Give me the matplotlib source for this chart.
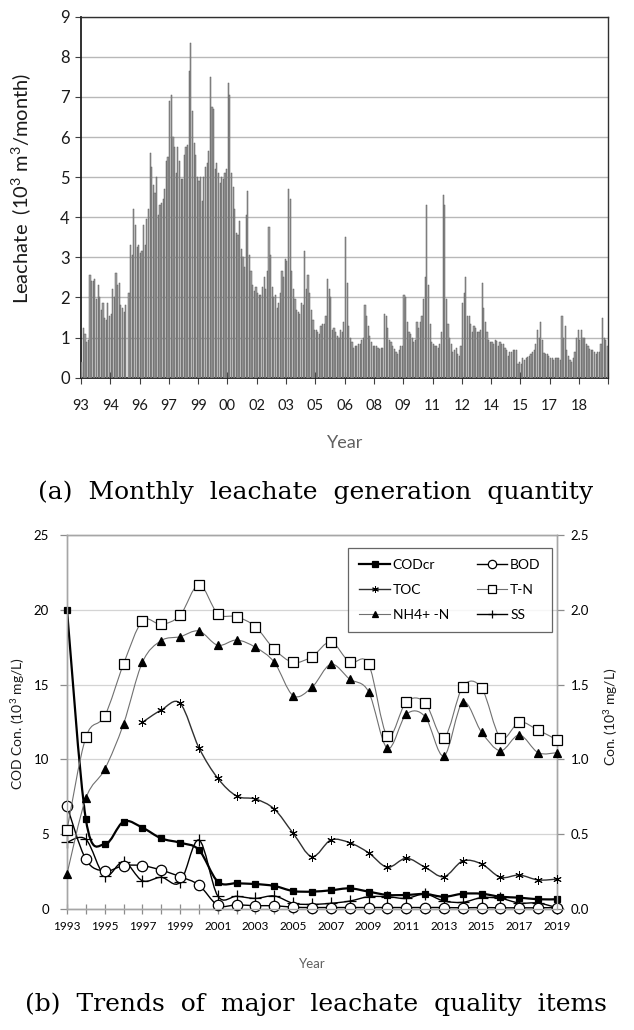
import numpy as np
import matplotlib
matplotlib.use('Agg')
import matplotlib.pyplot as plt
from matplotlib.path import Path
from matplotlib.patches import PathPatch
from matplotlib.lines import Line2D

plt.rcParams['font.family'] = ['Lato', 'DejaVu Sans']
plt.rcParams['mathtext.fontset'] = 'custom'
plt.rcParams['mathtext.rm'] = 'Lato'

# (a) monthly leachate, 10^3 m3/month, Jan 1993 .. Dec 2019
leachate = [
    0.4, 1.25, 1.1, 0.9, 0.95, 2.55, 2.4, 2.4, 2.45, 1.95, 2.3, 2.0, 1.7, 1.85, 1.5, 1.45, 1.85, 1.55,
    1.6, 2.2, 2.0, 2.6, 2.3, 2.35, 1.8, 1.75, 1.65, 1.8, 0.0, 2.1, 3.3, 3.05, 4.2, 3.8, 3.25, 3.3,
    3.1, 3.15, 3.8, 3.3, 3.95, 4.2, 5.6, 5.25, 4.8, 4.6, 5.0, 4.05, 4.3, 4.35, 4.45, 4.7, 5.4, 5.5,
    6.9, 7.05, 6.0, 5.75, 5.1, 5.75, 5.4, 4.95, 4.95, 5.55, 5.75, 5.8, 7.65, 8.35, 6.65, 5.85, 5.55, 5.0,
    4.9, 5.0, 4.4, 5.0, 5.25, 5.35, 5.65, 7.5, 6.75, 6.7, 5.2, 5.35, 5.1, 4.85, 5.0, 4.95, 5.1, 5.2,
    7.35, 7.05, 5.1, 4.75, 4.2, 3.6, 3.55, 3.9, 3.2, 3.0, 2.75, 4.05, 4.65, 3.05, 2.65, 2.3, 2.15, 2.25,
    2.1, 2.05, 2.05, 2.25, 2.5, 2.2, 2.65, 3.75, 3.05, 2.25, 2.0, 2.05, 1.75, 1.85, 2.1, 2.65, 2.5, 2.95,
    2.9, 4.7, 4.45, 2.65, 2.2, 1.95, 1.7, 1.65, 1.6, 1.85, 1.8, 3.15, 2.2, 2.55, 2.1, 1.7, 1.45, 1.2,
    1.2, 1.15, 1.1, 1.3, 1.35, 1.35, 1.55, 2.45, 2.2, 2.0, 1.2, 1.25, 1.15, 1.05, 1.0, 1.2, 1.15, 1.4,
    3.5, 2.35, 1.3, 1.0, 0.9, 0.75, 0.8, 0.8, 0.85, 0.85, 0.95, 1.0, 1.8, 1.55, 1.3, 1.05, 0.9, 0.8,
    0.78, 0.78, 0.75, 0.72, 0.75, 0.75, 1.6, 1.55, 1.25, 0.95, 0.9, 0.8, 0.72, 0.65, 0.6, 0.7, 0.78, 0.8,
    2.05, 2.0, 1.4, 1.15, 1.1, 1.0, 0.9, 0.95, 1.4, 1.25, 1.4, 1.55, 1.95, 2.5, 4.3, 2.3, 1.35, 0.9,
    0.85, 0.8, 0.8, 0.75, 0.85, 1.15, 4.55, 4.3, 1.95, 1.35, 1.0, 0.85, 0.65, 0.7, 0.75, 0.6, 0.55, 0.8,
    1.85, 2.1, 2.5, 1.55, 1.55, 1.35, 1.15, 1.3, 1.25, 1.15, 1.15, 1.2, 2.35, 1.75, 1.4, 1.15, 0.95, 0.9,
    0.9, 0.85, 0.95, 0.92, 0.8, 0.9, 0.85, 0.85, 0.75, 0.7, 0.55, 0.65, 0.65, 0.68, 0.68, 0.68, 0.35, 0.4,
    0.35, 0.5, 0.45, 0.5, 0.52, 0.55, 0.6, 0.65, 0.7, 0.85, 1.2, 1.0, 1.4, 0.95, 0.62, 0.6, 0.58, 0.55,
    0.5, 0.5, 0.45, 0.5, 0.48, 0.5, 0.45, 1.55, 1.0, 1.3, 0.7, 0.55, 0.45, 0.4, 0.5, 0.65, 1.0, 1.2,
    0.95, 1.2, 0.98, 0.98, 0.85, 0.78, 0.72, 0.68, 0.7, 0.65, 0.6, 0.65, 0.65, 0.85, 1.5, 1.0, 0.95, 0.8,
]
month_ticks = list(range(0, 325, 18))
month_labels = ['93', '94', '96', '97', '99', '00', '02', '03', '05', '06',
                '08', '09', '11', '12', '14', '15', '17', '18', '']

# (b) yearly quality, COD/BOD/SS on left axis, TOC/T-N/NH4 on right axis
years = list(range(1993, 2020))
cod = [20.0, 6.0, 4.32, 5.84, 5.44, 4.72, 4.43, 3.95, 1.83, 1.72, 1.67, 1.54, 1.2, 1.16,
       1.25, 1.38, 1.16, 0.94, 0.94, 1.0, 0.82, 1.02, 1.02, 0.82, 0.76, 0.65, 0.65]
bod = [6.88, 3.32, 2.54, 2.9, 2.9, 2.6, 2.16, 1.6, 0.25, 0.28, 0.22, 0.22, 0.12, 0.1,
       0.1, 0.1, 0.1, 0.1, 0.1, 0.1, 0.1, 0.08, 0.1, 0.08, 0.08, 0.08, 0.1]
ss = [4.46, 4.66, 2.23, 3.16, 1.89, 2.12, 1.78, 4.61, 0.87, 0.85, 0.71, 0.87, 0.38, 0.31,
      0.38, 0.53, 0.82, 0.82, 0.71, 1.0, 0.53, 0.45, 0.76, 0.71, 0.4, 0.4, 0.09]
toc_years = list(range(1997, 2020))
toc = [1.248, 1.33, 1.375, 1.078, 0.874, 0.755, 0.735, 0.668, 0.506, 0.35, 0.461, 0.443,
       0.376, 0.279, 0.339, 0.279, 0.216, 0.321, 0.301, 0.212, 0.227, 0.194, 0.2]
tn = [0.528, 1.148, 1.29, 1.638, 1.925, 1.903, 1.963, 2.168, 1.974, 1.954, 1.887, 1.736,
      1.649, 1.687, 1.785, 1.65, 1.638, 1.156, 1.384, 1.38, 1.145, 1.486, 1.477, 1.145,
      1.248, 1.196, 1.13]
nh4 = [0.234, 0.74, 0.934, 1.237, 1.649, 1.794, 1.82, 1.858, 1.763, 1.798, 1.749, 1.649,
       1.426, 1.482, 1.636, 1.537, 1.453, 1.074, 1.301, 1.286, 1.023, 1.382, 1.181, 1.058,
       1.163, 1.045, 1.045]


def smooth_path(x, y):
    # catmull-rom style bezier through the points, like excel's smoothed line
    n = len(x)
    verts = [(x[0], y[0])]
    codes = [Path.MOVETO]
    for i in range(n - 1):
        xa, ya = (x[i - 1], y[i - 1]) if i > 0 else (x[i], y[i])
        xd, yd = (x[i + 2], y[i + 2]) if i + 2 < n else (x[i + 1], y[i + 1])
        c1 = (x[i] + (x[i + 1] - xa) / 6.0, y[i] + (y[i + 1] - ya) / 6.0)
        c2 = (x[i + 1] - (xd - x[i]) / 6.0, y[i + 1] - (yd - y[i]) / 6.0)
        verts += [c1, c2, (x[i + 1], y[i + 1])]
        codes += [Path.CURVE4] * 3
    return Path(verts, codes)


def draw_series(ax, x, y, color, lw, marker, ms, mfc, zorder, mew=0.9):
    ax.add_patch(PathPatch(smooth_path(x, y), facecolor='none', edgecolor=color,
                           lw=lw, zorder=zorder))
    ax.plot(x, y, ls='none', marker=marker, ms=ms, mfc=mfc, mec='black',
            mew=mew, zorder=zorder + 0.5, clip_on=False)
    return Line2D([], [], color=color, lw=lw, marker=marker, ms=ms * 0.8,
                  mfc=mfc, mec='black', mew=mew)


fig = plt.figure(figsize=(6.34, 10.30), dpi=100)

# ---------- (a) ----------
ax1 = fig.add_axes([81 / 634, 1 - 377.7 / 1030, 527.3 / 634, 361 / 1030])
months = np.arange(len(leachate))
ax1.bar(months + 0.5, leachate, width=0.72, color='#a0a0a0',
        edgecolor='#5c5c5c', linewidth=0.35, zorder=3)
ax1.set_xlim(0, 324)
ax1.set_ylim(0, 9)
ax1.set_yticks(range(10))
ax1.yaxis.grid(True, color='#b8b8b8', lw=1.0, zorder=0)
ax1.set_xticks(month_ticks)
ax1.set_xticklabels(month_labels)
ax1.tick_params(axis='x', direction='inout', length=8, width=0.8, color='#404040',
                labelsize=10.5, pad=11, labelcolor='#1a1a1a')
ax1.tick_params(axis='y', direction='out', length=4, width=0.8, color='#404040',
                labelsize=12, pad=4, labelcolor='#1a1a1a')
for s in ['left', 'bottom']:
    ax1.spines[s].set_color('#202020')
    ax1.spines[s].set_linewidth(1.3)
for s in ['top', 'right']:
    ax1.spines[s].set_color('#303030')
    ax1.spines[s].set_linewidth(1.0)

fig.text(22 / 634, 1 - 188 / 1030, 'Leachate  (10$^{3}$ m$^{3}$/month)', rotation=90,
         ha='center', va='center', fontsize=14.5, color='#1a1a1a')
fig.text(345 / 634, 1 - 443 / 1030, 'Year', ha='center', va='center',
         fontsize=13, color='#606060')
fig.text(316 / 634, 1 - 492 / 1030, '(a)  Monthly  leachate  generation  quantity',
         ha='center', va='center', fontsize=18, family='DejaVu Serif')

# ---------- (b) ----------
ax2 = fig.add_axes([67 / 634, 1 - 909 / 1030, 490 / 634, 374 / 1030])
ax3 = ax2.twinx()
ax2.set_xlim(1993, 2019)
ax2.set_ylim(0, 25)
ax3.set_ylim(0, 2.5)
ax2.set_yticks([0, 5, 10, 15, 20, 25])
ax3.set_yticks([0, 0.5, 1.0, 1.5, 2.0, 2.5])
ax3.set_yticklabels(['0.0', '0.5', '1.0', '1.5', '2.0', '2.5'])
ax2.set_xticks(years[::2])
ax2.set_xticks(years, minor=True)
ax2.yaxis.grid(True, color='#d4d4d4', lw=0.9, zorder=0)
ax2.set_axisbelow(True)
for ax in (ax2, ax3):
    for s in ax.spines.values():
        s.set_color('#a6a6a6')
        s.set_linewidth(1.0)
ax2.tick_params(axis='x', which='both', direction='inout', length=7, width=0.9,
                color='#8c8c8c', labelsize=8.5, pad=5)
ax2.tick_params(axis='y', direction='out', length=5, width=0.9, color='#8c8c8c',
                labelsize=9.5, pad=8)
ax3.tick_params(axis='y', direction='out', length=5, width=0.9, color='#8c8c8c',
                labelsize=9.5, pad=5)

h_tn = draw_series(ax3, years, tn, '#707070', 0.8, 's', 6.5, 'white', 3)
h_nh4 = draw_series(ax3, years, nh4, '#707070', 0.8, '^', 6, 'black', 3)
h_toc = draw_series(ax3, toc_years, toc, '#303030', 1.0, (6, 2, 0), 6, 'black', 4, mew=0.7)
h_ss = draw_series(ax2, years, ss, 'black', 1.0, '+', 8, 'black', 5)
h_bod = draw_series(ax2, years, bod, 'black', 1.0, 'o', 7.5, 'white', 6)
h_cod = draw_series(ax2, years, cod, 'black', 1.6, 's', 5, 'black', 7)

leg = ax3.legend([h_cod, h_toc, h_nh4, h_bod, h_tn, h_ss],
                 ['CODcr', 'TOC', 'NH4+ -N', 'BOD', 'T-N', 'SS'],
                 ncol=2, loc='upper left', bbox_to_anchor=(0.56, 0.985),
                 fontsize=10, frameon=True, fancybox=False, handlelength=2.2,
                 handletextpad=0.2, columnspacing=2.0, labelspacing=0.95,
                 borderpad=0.8)
leg.get_frame().set_edgecolor('#404040')
leg.get_frame().set_linewidth(0.9)

fig.text(18 / 634, 1 - 724 / 1030, 'COD Con. (10$^{3}$ mg/L)', rotation=90,
         ha='center', va='center', fontsize=10, color='#1a1a1a')
fig.text(611 / 634, 1 - 717 / 1030, 'Con. (10$^{3}$ mg/L)', rotation=90,
         ha='center', va='center', fontsize=10, color='#1a1a1a')
fig.text(312 / 634, 1 - 964 / 1030, 'Year', ha='center', va='center',
         fontsize=9.5, color='#606060')
fig.text(316 / 634, 1 - 1004 / 1030, '(b)  Trends  of  major  leachate  quality  items',
         ha='center', va='center', fontsize=18, family='DejaVu Serif')

fig.savefig('out.png', dpi=100)
